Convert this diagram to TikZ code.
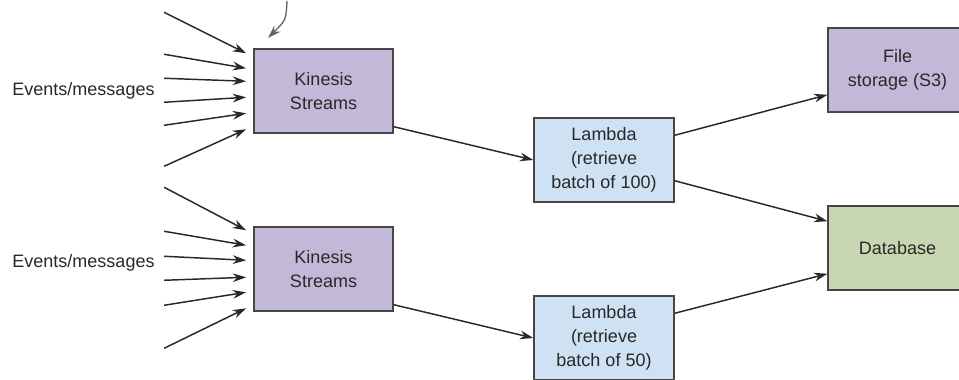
\documentclass[tikz,border=0pt]{standalone}
\usepackage{fontspec}
\setmainfont{Liberation Sans}
\usetikzlibrary{arrows.meta,calc}
\definecolor{kinfill}{RGB}{196,184,216}
\definecolor{lamfill}{RGB}{207,226,243}
\definecolor{dbfill}{RGB}{200,214,178}
\definecolor{edge}{RGB}{70,70,70}
\definecolor{ink}{RGB}{40,40,40}
\definecolor{pointer}{RGB}{100,100,100}
\tikzset{
  box/.style={draw=edge, line width=1.1pt, minimum width=104.5pt, minimum height=63pt,
    align=center, text=ink, font=\fontsize{13.5}{18}\selectfont, inner sep=0pt},
  kbox/.style={box, fill=kinfill},
  lbox/.style={box, fill=lamfill, minimum width=105pt},
  dbox/.style={box, fill=dbfill, minimum width=110pt},
  flow/.style={draw=ink, line width=1.1pt, -{Stealth[length=10pt,width=6.5pt]}},
  lbl/.style={text=ink, font=\fontsize{13.5}{18}\selectfont}
}
\begin{document}
\begin{tikzpicture}[x=0.75pt,y=-0.75pt]
  \useasboundingbox (0,0) rectangle (959,379);

    %% streams
    \node[kbox] (k1) at (323.5,91) {Kinesis\\Streams};
    \node[kbox] (k2) at (323.5,269) {Kinesis\\Streams};

    %% lambdas
    \node[lbox] (l1) at (604,160) {Lambda\\(retrieve\\batch of 100)};
    \node[lbox] (l2) at (604,338) {Lambda\\(retrieve\\batch of 50)};

    %% stores
    \node[kbox, minimum width=110pt] (s3) at (901.5,70) {\hspace*{-6pt}File\\\hspace*{-6pt}storage (S3)};
    \node[dbox] (db) at (901.5,248) {\hspace*{-6pt}Database};

    %% event labels
    \node[lbl] (ev1) at (83.5,91) {Events/messages};
    \node[lbl] (ev2) at (83.5,263) {Events/messages};

    %% incoming events
    \foreach \s/\e in {-36/5, 6/20, 30/33, 54/49, 77/65, 118/81}
      \draw[flow] ($(k1.north west)+(-89,\s)$) -- ($(k1.north west)+(-7,\e)$);
    \foreach \s/\e in {-39/4, 5/19, 30/34, 54/51, 79/66, 122/82}
      \draw[flow] ($(k2.north west)+(-89,\s)$) -- ($(k2.north west)+(-7,\e)$);

    %% curved pointer
    \coordinate (c0) at (287,1);
    \coordinate (c1) at (268,38);
    \draw[draw=pointer, line width=1pt, -{Stealth[length=10pt,width=6.5pt]}]
      (c0) .. controls (286,20) .. (c1);

    %% flows
    \draw[flow] ($(k1.south east)+(0,-7)$) -- (l1.west);
    \draw[flow] ($(k2.south east)+(0,-7)$) -- (l2.west);
    \draw[flow] ($(l1.north east)+(0,18)$) -- ($(s3.south west)+(0,-18)$);
    \draw[flow] ($(l1.south east)+(0,-22)$) -- ($(db.north west)+(0,16)$);
    \draw[flow] ($(l2.north east)+(0,18)$) -- ($(db.south west)+(0,-17)$);

\end{tikzpicture}
\end{document}
